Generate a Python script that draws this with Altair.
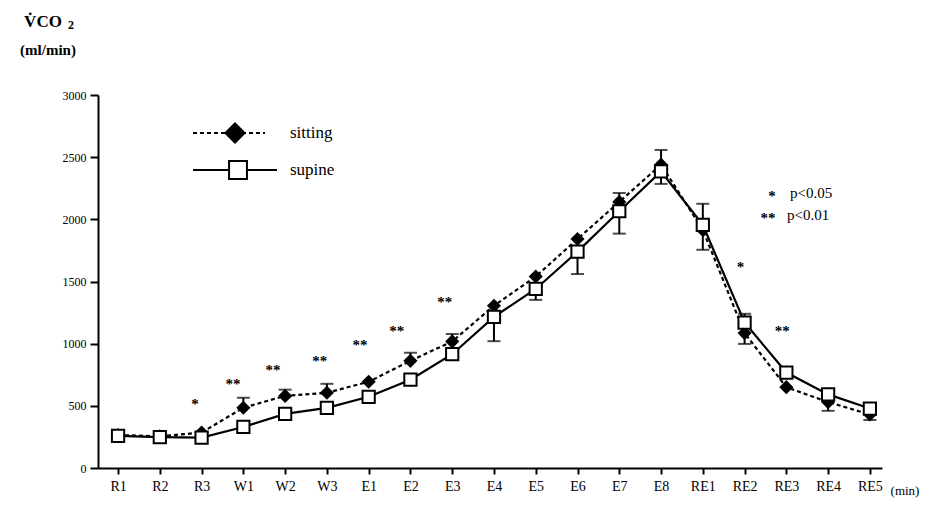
import altair as alt
import pandas as pd

# ---- data ----
cats = ["R1", "R2", "R3", "W1", "W2", "W3", "E1", "E2", "E3", "E4",
        "E5", "E6", "E7", "E8", "RE1", "RE2", "RE3", "RE4", "RE5"]
sitting = [265, 255, 285, 485, 580, 605, 694, 862, 1018, 1305,
           1540, 1842, 2140, 2440, 1915, 1085, 650, 530, 430]
supine = [258, 248, 245, 330, 435, 484, 573, 710, 915, 1215,
          1440, 1740, 2065, 2385, 1955, 1170, 768, 592, 478]
# signed error bar lengths (positive = drawn upward)
sitting_err = [0, 0, 0, 80, 50, 72, 0, 65, 60, 0,
               0, 0, 72, 118, -160, -87, 0, -70, -44]
supine_err = [0, 0, 0, 0, 0, -20, 0, -25, 0, -195,
              -88, -180, -180, -100, 170, 70, 0, 0, 0]
# significance markers (x as fractional category index)
star_x = [1.84, 2.75, 3.71, 4.83, 5.79, 6.67, 7.82, 14.9, 15.9]
star_y = [547, 708, 820, 893, 1022, 1134, 1368, 1649, 1134]
star_txt = ["*", "**", "**", "**", "**", "**", "**", "*", "**"]
y_ticks = [0, 500, 1000, 1500, 2000, 2500, 3000]

FONT = "Liberation Serif"

rows = []
for i, c in enumerate(cats):
    rows.append({"i": i, "cat": c, "series": "sitting", "v": sitting[i],
                 "err": sitting_err[i], "end": sitting[i] + sitting_err[i]})
    rows.append({"i": i, "cat": c, "series": "supine", "v": supine[i],
                 "err": supine_err[i], "end": supine[i] + supine_err[i]})
df = pd.DataFrame(rows)
stars = pd.DataFrame({"x": star_x, "y": star_y, "t": star_txt})

label_expr = "[" + ",".join("'%s'" % c for c in cats) + "][datum.value]"

x_scale = alt.Scale(domain=[-0.48, 18.29], nice=False, zero=False)
y_scale = alt.Scale(domain=[0, 3000], nice=False)

x_axis = alt.Axis(values=list(range(len(cats))), labelExpr=label_expr, title=None,
                  grid=False, labelFont=FONT, labelFontSize=14, labelColor="black",
                  labelPadding=5, tickSize=6, tickWidth=2, tickColor="black",
                  domainColor="black", domainWidth=2)
y_axis = alt.Axis(values=y_ticks, format="d", title=None, grid=False, labelFont=FONT,
                  labelFontSize=12, labelColor="black", labelPadding=4,
                  tickSize=8, tickWidth=2, tickColor="black",
                  domainColor="black", domainWidth=2)

base = alt.Chart(df)
X = alt.X("i:Q", scale=x_scale, axis=x_axis)
Y = alt.Y("v:Q", scale=y_scale, axis=y_axis)

errs = base.transform_filter("datum.err != 0")
err_rule = errs.mark_rule(color="black", strokeWidth=2).encode(
    x=X, y=Y, y2="end:Q")
err_cap = errs.mark_tick(orient="horizontal", size=13, thickness=2, color="black").encode(
    x=alt.X("i:Q", scale=x_scale), y=alt.Y("end:Q", scale=y_scale))

line_sit = base.transform_filter("datum.series == 'sitting'").mark_line(
    color="black", strokeWidth=2.2, strokeDash=[4, 3]).encode(x=X, y=Y)
line_sup = base.transform_filter("datum.series == 'supine'").mark_line(
    color="black", strokeWidth=2.2).encode(x=X, y=Y)
pts_sit = base.transform_filter("datum.series == 'sitting'").mark_point(
    shape="diamond", filled=True, color="black", size=200, opacity=1).encode(x=X, y=Y)
pts_sup = base.transform_filter("datum.series == 'supine'").mark_point(
    shape="square", filled=True, fill="white", stroke="black", strokeWidth=2,
    size=150, opacity=1).encode(x=X, y=Y)

star_marks = alt.Chart(stars).mark_text(font=FONT, fontSize=15, color="black",
                                        fontWeight="bold", baseline="middle", dy=4).encode(
    x=alt.X("x:Q", scale=x_scale), y=alt.Y("y:Q", scale=y_scale), text="t:N")

one = alt.Data(values=[{"a": 1}])


def txt(s, x, y, size, align="center", weight="normal"):
    return alt.Chart(one).mark_text(text=s, font=FONT, fontSize=size, color="black",
                                    align=align, baseline="middle",
                                    fontWeight=weight).encode(
        x=alt.value(x), y=alt.value(y))


def hline(x1, x2, y, dash=None):
    kw = dict(color="black", strokeWidth=2)
    if dash:
        kw["strokeDash"] = dash
    return alt.Chart(one).mark_rule(**kw).encode(
        x=alt.value(x1), x2=alt.value(x2), y=alt.value(y))


legend = [
    hline(95, 167, 38, [4, 3]),
    alt.Chart(one).mark_point(shape="diamond", filled=True, color="black",
                              size=480, opacity=1).encode(x=alt.value(137), y=alt.value(38)),
    txt("sitting", 192, 38, 17, "left"),
    hline(95, 179, 75),
    alt.Chart(one).mark_point(shape="square", filled=True, fill="white", stroke="black",
                              strokeWidth=2, size=320, opacity=1).encode(
        x=alt.value(140), y=alt.value(75)),
    txt("supine", 192, 75, 17, "left"),
    txt("*", 674, 101, 15, weight="bold"),
    txt("p<0.05", 692, 98, 15, "left"),
    txt("**", 670, 123, 15, weight="bold"),
    txt("p<0.01", 689, 120, 15, "left"),
    txt("V\u0307CO", -55, -73, 17, weight="bold"),
    txt("2", -27, -70, 12, weight="bold"),
    txt("(ml/min)", -50, -45, 15, weight="bold"),
    txt("(min)", 807, 396, 13),
]

chart = alt.layer(err_rule, err_cap, line_sit, line_sup, pts_sit, pts_sup,
                  star_marks, *legend).properties(
    width=784, height=373,
    padding={"left": 90, "top": 87, "right": 50, "bottom": 38},
    autosize=alt.AutoSizeParams(type="none"),
    background="white",
).configure_view(stroke=None).configure_axis(labelFont=FONT)

chart.save("out.html", embed_options={"renderer": "svg", "actions": False})
